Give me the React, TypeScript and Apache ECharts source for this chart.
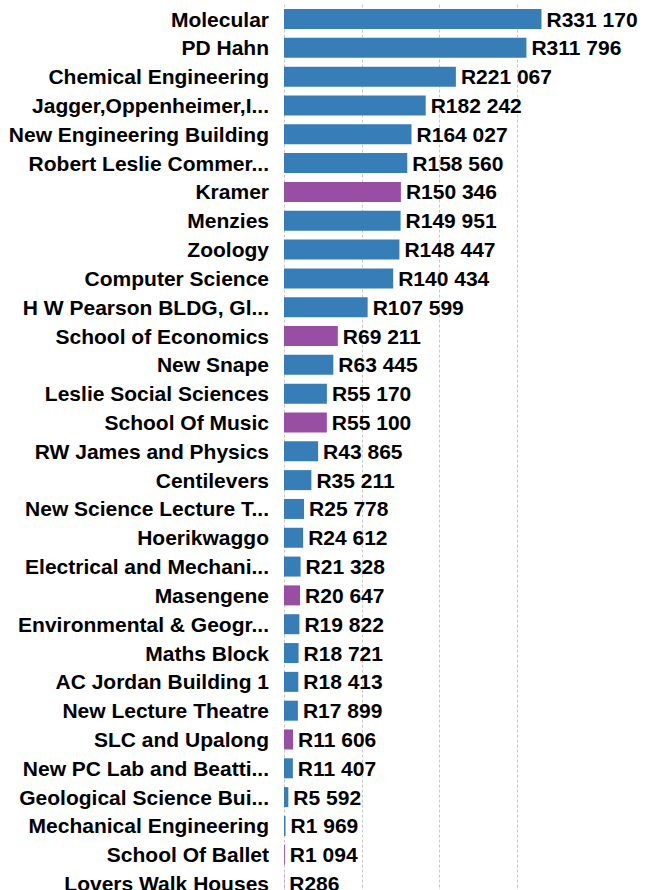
import React, { useEffect, useRef } from "react";
import * as echarts from "echarts";

const categories = [
  "Molecular",
  "PD Hahn",
  "Chemical Engineering",
  "Jagger,Oppenheimer,I...",
  "New Engineering Building",
  "Robert Leslie Commer...",
  "Kramer",
  "Menzies",
  "Zoology",
  "Computer Science",
  "H W Pearson BLDG, Gl...",
  "School of Economics",
  "New Snape",
  "Leslie Social Sciences",
  "School Of Music",
  "RW James and Physics",
  "Centilevers",
  "New Science Lecture T...",
  "Hoerikwaggo",
  "Electrical and Mechani...",
  "Masengene",
  "Environmental & Geogr...",
  "Maths Block",
  "AC Jordan Building 1",
  "New Lecture Theatre",
  "SLC and Upalong",
  "New PC Lab and Beatti...",
  "Geological Science Bui...",
  "Mechanical Engineering",
  "School Of Ballet",
  "Lovers Walk Houses",
];

const values = [
  331170, 311796, 221067, 182242, 164027, 158560, 150346, 149951, 148447,
  140434, 107599, 69211, 63445, 55170, 55100, 43865, 35211, 25778, 24612,
  21328, 20647, 19822, 18721, 18413, 17899, 11606, 11407, 5592, 1969, 1094,
  286,
];

// true = highlighted (purple) building
const highlighted = [
  false, false, false, false, false, false, true, false, false, false, false,
  true, false, false, true, false, false, false, false, false, true, false,
  false, false, false, true, false, false, false, true, true,
];

const BLUE = "#377eb8";
const PURPLE = "#984ea3";

const formatRand = (v: number) =>
  "R" + String(Math.round(v)).replace(/\B(?=(\d{3})+(?!\d))/g, " ");

export default function App() {
  const ref = useRef<HTMLDivElement>(null);

  useEffect(() => {
    if (!ref.current) return;
    const chart = echarts.init(ref.current, undefined, { renderer: "svg" });
    const font = "'Liberation Sans', Arial, sans-serif";
    chart.setOption({
      animation: false,
      backgroundColor: "#ffffff",
      grid: {
        left: 284,
        top: 4.6,
        width: 311,
        height: 893.4,
        containLabel: false,
        outerBoundsMode: "none",
      },
      xAxis: {
        type: "value",
        min: 0,
        max: 400000,
        interval: 100000,
        axisLabel: { show: false },
        axisLine: { show: false },
        axisTick: { show: false },
        splitLine: {
          show: true,
          showMaxLine: false,
          lineStyle: { color: "#c8c8c8", type: [3, 2], width: 1 },
        },
      },
      yAxis: {
        type: "category",
        inverse: true,
        data: categories,
        axisLine: { show: false },
        axisTick: { show: false },
        axisLabel: {
          margin: 15,
          color: "#000000",
          fontSize: 21,
          fontWeight: "bold",
          fontFamily: font,
        },
      },
      series: [
        {
          type: "bar",
          barWidth: 20,
          data: values.map((v, i) => ({
            value: v,
            itemStyle: { color: highlighted[i] ? PURPLE : BLUE },
          })),
          label: {
            show: true,
            position: "right",
            distance: 5,
            color: "#000000",
            fontSize: 21,
            fontWeight: "bold",
            fontFamily: font,
            formatter: (p: any) => formatRand(p.value),
          },
        },
      ],
    });
    return () => chart.dispose();
  }, []);

  return (
    <div
      ref={ref}
      style={{
        position: "absolute",
        left: 0,
        top: 0,
        width: 650,
        height: 890,
        background: "#fff",
      }}
    />
  );
}
